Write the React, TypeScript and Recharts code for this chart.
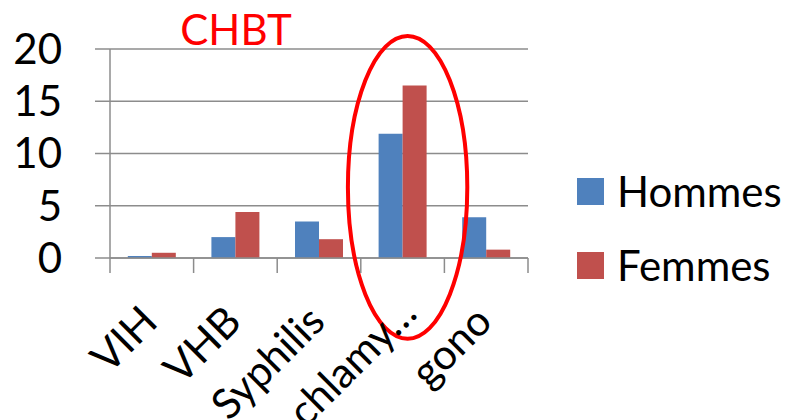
import React from 'react';
import { Bar, BarChart, CartesianGrid, Customized, Legend, ReferenceDot, XAxis, YAxis } from 'recharts';

const categories = ['VIH', 'VHB', 'Syphilis', 'chlamy…', 'gono'];
const hommes = [0.2, 2.0, 3.5, 11.9, 3.9];
const femmes = [0.5, 4.4, 1.8, 16.5, 0.8];
const yTicks = [0, 5, 10, 15, 20];
const seriesNames = ['Hommes', 'Femmes'];

const data = categories.map((name, i) => ({ name, Hommes: hommes[i], Femmes: femmes[i] }));

const FONT = 'Lato, "Open Sans", sans-serif';
const GRAY = '#8c8c8c';
const BLUE = '#4F81BD';
const RED = '#C0504D';

// category labels rotated -45°, with tick marks on the band edges
const CategoryTick = (props: any) => {
  const { x, y, payload, index, visibleTicksCount } = props;
  const half = payload?.offset || 41.8;
  // truncated labels sit a little further along the diagonal
  const shift = String(payload.value).endsWith('…') ? 12 * Math.SQRT1_2 : 0;
  const tx = x + 8 + shift;
  const ty = y + 66 - shift;
  return (
    <g>
      <line x1={x - half} y1={y} x2={x - half} y2={y + 15} stroke={GRAY} strokeWidth={1.5} />
      {index === visibleTicksCount - 1 && (
        <line x1={x + half} y1={y} x2={x + half} y2={y + 15} stroke={GRAY} strokeWidth={1.5} />
      )}
      <text
        x={tx}
        y={ty}
        transform={`rotate(-45, ${tx}, ${ty})`}
        textAnchor="end"
        fontFamily={FONT}
        fontSize={42}
        fill="#000"
      >
        {payload.value}
      </text>
    </g>
  );
};

// keep series order (Recharts sorts legend items by name otherwise)
const LegendContent = ({ payload }: any) => {
  const items = [...(payload || [])].sort(
    (a: any, b: any) => seriesNames.indexOf(a.value) - seriesNames.indexOf(b.value)
  );
  return (
    <div style={{ fontFamily: FONT, fontSize: 42, color: '#000' }}>
      {items.map((entry: any) => (
        <div key={entry.value} style={{ display: 'flex', alignItems: 'center', height: 74 }}>
          <span style={{ width: 27, height: 27, background: entry.color, marginRight: 13, display: 'inline-block' }} />
          <span style={{ lineHeight: 1 }}>{entry.value}</span>
        </div>
      ))}
    </div>
  );
};

const Title = () => (
  <text x={236} y={45} textAnchor="middle" fontFamily={FONT} fontSize={42} fill="#FF0000">
    CHBT
  </text>
);

const Highlight = (props: any) => (
  <ellipse cx={props.cx + 5} cy={props.cy} rx={59.7} ry={151.4} fill="none" stroke="#FF0000" strokeWidth={4} />
);

export default function App() {
  return (
    <div style={{ position: 'absolute', left: 0, top: 0, width: 794, height: 420, background: '#fff' }}>
      <BarChart
        width={794}
        height={420}
        data={data}
        margin={{ top: 49, right: 266, bottom: 0, left: 0 }}
        barCategoryGap="21.3%"
        barGap={0}
      >
        <CartesianGrid vertical={false} stroke={GRAY} strokeWidth={1.5} />
        <XAxis
          dataKey="name"
          height={162}
          interval={0}
          tickLine={false}
          tickSize={0}
          tickMargin={0}
          axisLine={{ stroke: GRAY, strokeWidth: 1.5 }}
          tick={<CategoryTick />}
        />
        <YAxis
          width={110}
          domain={[0, 20]}
          ticks={yTicks}
          interval={0}
          tickSize={15}
          tickMargin={33}
          tickLine={{ stroke: GRAY, strokeWidth: 1.5 }}
          axisLine={{ stroke: GRAY, strokeWidth: 1.5 }}
          tick={{ fontFamily: FONT, fontSize: 42, fill: '#000' }}
        />
        <Bar dataKey="Hommes" fill={BLUE} isAnimationActive={false} />
        <Bar dataKey="Femmes" fill={RED} isAnimationActive={false} />
        <ReferenceDot x="chlamy…" y={6.76} ifOverflow="visible" shape={<Highlight />} />
        <Legend
          layout="vertical"
          align="center"
          verticalAlign="middle"
          wrapperStyle={{ left: 577, top: 154, width: 'auto' }}
          content={<LegendContent />}
        />
        <Customized component={<Title />} />
      </BarChart>
    </div>
  );
}
